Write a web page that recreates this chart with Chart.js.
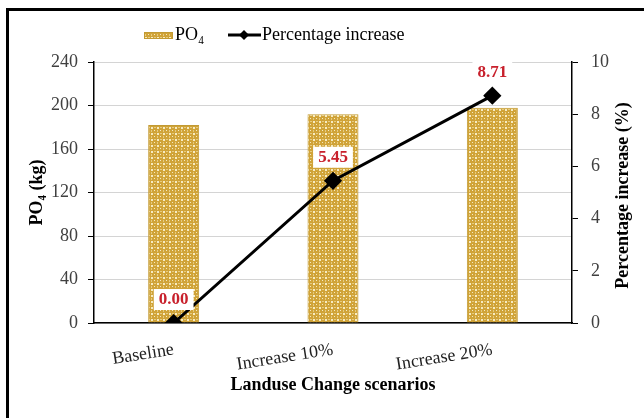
<!DOCTYPE html>
<html>
<head>
<meta charset="utf-8">
<script src="https://cdn.jsdelivr.net/npm/chart.js@4.4.1/dist/chart.umd.min.js"></script>
<style>
  html, body { margin: 0; padding: 0; background: #fff; }
  #wrap { position: relative; width: 644px; height: 418px; overflow: hidden; }
  #frame { position: absolute; left: 6px; top: 8px; width: 700px; height: 500px;
           border-left: 3px solid #000; border-top: 3px solid #000; }
  canvas { position: absolute; left: 0; top: 0; }
</style>
</head>
<body>
<div id="wrap">
  <div id="frame"></div>
  <canvas id="myChart" width="644" height="418"></canvas>
</div>
<script>
// daten
let scenarios = ["Baseline", "Increase 10%", "Increase 20%"];
let po4 = [182, 191.9, 197.9];
let increase = [0, 5.45, 8.71];
let increaseLabels = ["0.00", "5.45", "8.71"];

const serif = "'Liberation Serif', 'Times New Roman', serif";

// goldenes muster fuer die balken
function makePattern() {
  let c = document.createElement("canvas");
  c.width = 6;
  c.height = 6;
  let g = c.getContext("2d");
  g.fillStyle = "#d0a338";
  g.fillRect(0, 0, 6, 6);
  g.fillStyle = "#f6ebc2";
  g.fillRect(1, 1, 2, 2);
  g.fillRect(4, 4, 1, 1);
  g.fillStyle = "#e6cb80";
  g.fillRect(4, 1, 2, 1);
  g.fillRect(1, 4, 1, 2);
  return g.createPattern(c, "repeat");
}
let pattern = makePattern();

// legende, titel rechts und rote zahlen
const extras = {
  id: "extras",
  afterDatasetsDraw(chart) {
    let meta = chart.getDatasetMeta(0);
    let ctx = chart.ctx;
    ctx.save();
    ctx.font = "bold 17px " + serif;
    ctx.textAlign = "center";
    ctx.textBaseline = "middle";
    meta.data.forEach((pt, i) => {
      let x = pt.x;
      let y = pt.y - 24;
      let text = increaseLabels[i];
      let w = ctx.measureText(text).width + 10;
      ctx.fillStyle = "#fff";
      ctx.fillRect(x - w / 2, y - 10, w, 21);
      ctx.fillStyle = "#c8202c";
      ctx.fillText(text, x, y + 1);
    });
    ctx.restore();
  },
  afterDraw(chart) {
    let ctx = chart.ctx;
    let area = chart.chartArea;
    ctx.save();
    // titel rechts, von unten nach oben
    ctx.translate(623, (area.top + area.bottom) / 2 + 3);
    ctx.rotate(-Math.PI / 2);
    ctx.font = "bold 18px " + serif;
    ctx.fillStyle = "#000";
    ctx.textAlign = "center";
    ctx.textBaseline = "middle";
    ctx.fillText("Percentage increase (%)", 0, 0);
    ctx.restore();

    // legende
    ctx.save();
    ctx.fillStyle = pattern;
    ctx.fillRect(144, 32, 29, 7);
    ctx.strokeStyle = "#c29a32";
    ctx.lineWidth = 1;
    ctx.strokeRect(144.5, 32.5, 28, 6);
    ctx.font = "18px " + serif;
    ctx.fillStyle = "#000";
    ctx.textBaseline = "alphabetic";
    ctx.textAlign = "left";
    ctx.fillText("PO\u2084", 175, 40);
    ctx.strokeStyle = "#000";
    ctx.lineWidth = 3;
    ctx.beginPath();
    ctx.moveTo(228, 35);
    ctx.lineTo(261, 35);
    ctx.stroke();
    ctx.beginPath();
    ctx.moveTo(244, 30);
    ctx.lineTo(249, 35);
    ctx.lineTo(244, 40);
    ctx.lineTo(239, 35);
    ctx.closePath();
    ctx.fillStyle = "#000";
    ctx.fill();
    ctx.fillText("Percentage increase", 262, 40);
    ctx.restore();
  },
};

let ctx = document.getElementById("myChart").getContext("2d");
let myChart = new Chart(ctx, {
  type: "bar",
  data: {
    labels: scenarios,
    datasets: [
      {
        type: "line",
        label: "Percentage increase",
        data: increase,
        yAxisID: "yAxisB",
        borderColor: "#000",
        backgroundColor: "#000",
        borderWidth: 3,
        pointStyle: "rectRot",
        pointRadius: 7,
        pointHoverRadius: 7,
        tension: 0,
        order: 0,
      },
      {
        label: "PO4",
        data: po4,
        yAxisID: "yAxisA",
        backgroundColor: pattern,
        borderColor: "#c29a32",
        borderWidth: 1,
        barPercentage: 0.32,
        categoryPercentage: 1,
        order: 1,
      },
    ],
  },
  options: {
    responsive: false,
    animation: false,
    layout: { padding: { left: 0, right: 0, top: 62, bottom: 0 } },
    plugins: {
      tooltip: { enabled: false },
      legend: { display: false },
    },
    scales: {
      x: {
        afterFit: (scale) => { scale.height = 95; },
        grid: { display: false, drawTicks: false },
        border: { color: "#000", width: 1.5 },
        ticks: {
          color: "#222",
          font: { family: serif, size: 18 },
          minRotation: 9,
          maxRotation: 9,
          padding: 16,
        },
        title: {
          display: true,
          text: "Landuse Change scenarios",
          color: "#000",
          font: { family: serif, size: 18, weight: "bold" },
          padding: { bottom: 22 },
        },
      },
      yAxisA: {
        type: "linear",
        position: "left",
        min: 0,
        max: 240,
        afterFit: (scale) => { scale.width = 94; },
        ticks: {
          stepSize: 40,
          color: "#404040",
          font: { family: serif, size: 18 },
          padding: 10,
        },
        grid: { color: "#d4d4d4", tickColor: "#000", tickLength: 6 },
        border: { color: "#000", width: 1.5 },
        title: {
          display: true,
          text: "PO\u2084 (kg)",
          color: "#000",
          font: { family: serif, size: 18, weight: "bold" },
          padding: { top: 27 },
        },
      },
      yAxisB: {
        type: "linear",
        position: "right",
        min: 0,
        max: 10,
        afterFit: (scale) => { scale.width = 72; },
        ticks: {
          stepSize: 2,
          color: "#404040",
          font: { family: serif, size: 18 },
          padding: 13,
        },
        grid: { drawOnChartArea: false, tickColor: "#000", tickLength: 6 },
        border: { color: "#000", width: 1.5 },
      },
    },
  },
  plugins: [extras],
});
</script>
</body>
</html>
